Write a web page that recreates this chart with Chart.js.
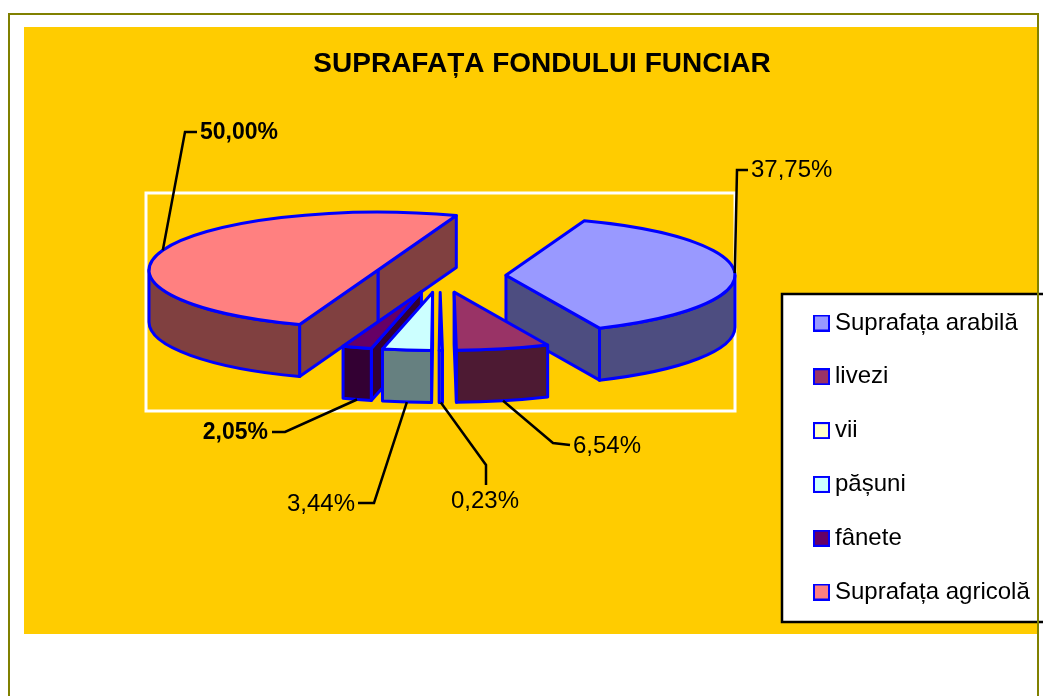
<!DOCTYPE html>
<html>
<head>
<meta charset="utf-8">
<style>html,body{margin:0;padding:0;background:#fff}canvas{display:block}</style>
<script src="https://cdn.jsdelivr.net/npm/chart.js@4"></script>
</head>
<body>
<canvas id="c" width="1043" height="696"></canvas>
<script>
const categories = ['Suprafața arabilă','livezi','vii','pășuni','fânete','Suprafața agricolă'];
const values = [37.75, 6.54, 0.23, 3.44, 2.05, 50.00];
const boldLabels = [false, false, false, false, true, true];
const sliceColors = ['#9999FF','#993366','#FFFFCC','#CCFFFF','#660066','#FF8080'];
const sideColors = ['#4D4D80','#4D1A33','#808066','#668080','#330033','#804040'];
const drawOrder = [5,0,4,1,3,2];
// leader-line layout: elbow offsets and label ends, per slice
const leaderElbows = [[[737,170],[748,170]],[[553,443],[570,445]],[[486,465],[486,485]],[[374,503],[358,503]],[[285,432],[272,432]],[[185,132],[197,132]]];
const labelAnchors = [[751,170,'left'],[573,446,'left'],[485,501,'center'],[355,504,'right'],[268,433,'right'],[200,133,'left']];

const FONT = '"Liberation Sans", Arial, sans-serif';
const SQUASH = 58/229, DEPTH = 52, BLUE = '#0000FF';

// legend swatch: sits right of the image centre so it clears the text gap
function swatch(color){
  const s=document.createElement('canvas'); s.width=26; s.height=17;
  const x=s.getContext('2d');
  x.fillStyle=color; x.fillRect(10,1,15,15);
  x.strokeStyle=BLUE; x.lineWidth=2; x.strokeRect(10,1,15,15);
  return s;
}

const pie3d = {
  id:'pie3d',
  beforeDraw(chart){
    const c = chart.ctx;
    c.save();
    c.fillStyle='#fff'; c.fillRect(0,0,1043,696);
    c.fillStyle='#FFCC00'; c.fillRect(24,27,1014,607);
    c.strokeStyle='#fff'; c.lineWidth=3; c.strokeRect(146,193,589,218);
    c.fillStyle='#fff'; c.fillRect(782,294,261,328);
    c.strokeStyle='#000'; c.lineWidth=2.5;
    c.beginPath(); c.moveTo(1043,294); c.lineTo(782,294); c.lineTo(782,622); c.lineTo(1043,622); c.stroke();
    c.strokeStyle='#808000'; c.lineWidth=2;
    c.beginPath(); c.moveTo(9,696); c.lineTo(9,14); c.lineTo(1038,14); c.lineTo(1038,696); c.stroke();
    c.restore();
    const l = chart.legend, pad = l.options.labels.padding;
    l.left = 811-pad; l.right = 1043; l.top = 311-pad; l.bottom = 696; l.width = 1043-l.left; l.height = 696-l.top;
    const t = chart.titleBlock; t.left = 24; t.right = 1060; t.width = 1036;
  },
  beforeDatasetDraw(chart){
    const c = chart.ctx, arcs = chart.getDatasetMeta(0).data;
    const geo = arcs.map(a=>{
      const mid=(a.startAngle+a.endAngle)/2, off=a.options.offset;
      return {a, mid, r:a.outerRadius, px:a.x+Math.cos(mid)*off, py:a.y+Math.sin(mid)*off*SQUASH};
    });
    const pt=(g,t)=>[g.px+g.r*Math.cos(t), g.py+g.r*SQUASH*Math.sin(t)];
    c.save(); c.lineJoin='round'; c.lineWidth=3; c.strokeStyle=BLUE;
    const wall=(g,t,i)=>{
      const q=pt(g,t);
      c.beginPath(); c.moveTo(g.px,g.py); c.lineTo(q[0],q[1]); c.lineTo(q[0],q[1]+DEPTH); c.lineTo(g.px,g.py+DEPTH); c.closePath();
      c.fillStyle=sideColors[i]; c.fill(); c.stroke();
    };
    drawOrder.forEach(i=>{
      const g=geo[i], s=g.a.startAngle, e=g.a.endAngle;
      if(Math.cos(e)>0) wall(g,e,i);
      if(Math.cos(s)<0) wall(g,s,i);
      // outer wall: the part of the rim that faces the viewer
      const P=Math.PI*2; let from=s, to=e;
      while(to>P){from-=P;to-=P;}
      const lo=Math.max(from,0), hi=Math.min(to,Math.PI);
      if(hi>lo){
        c.beginPath();
        c.ellipse(g.px,g.py,g.r,g.r*SQUASH,0,lo,hi);
        c.ellipse(g.px,g.py+DEPTH,g.r,g.r*SQUASH,0,hi,lo,true);
        c.closePath(); c.fillStyle=sideColors[i]; c.fill(); c.stroke();
      }
      c.beginPath(); c.moveTo(g.px,g.py);
      c.ellipse(g.px,g.py,g.r,g.r*SQUASH,0,s,e);
      c.closePath(); c.fillStyle=sliceColors[i]; c.fill(); c.stroke();
    });
    c.strokeStyle='#000'; c.lineWidth=2.5; c.lineJoin='miter';
    geo.forEach((g,i)=>{
      const q=pt(g,g.mid), y=q[1]+(Math.sin(g.mid)>0.3?DEPTH:0);
      c.beginPath(); c.moveTo(q[0],y);
      leaderElbows[i].forEach(p=>c.lineTo(p[0],p[1])); c.stroke();
      const [lx,ly,al]=labelAnchors[i];
      c.fillStyle='#000'; c.textAlign=al; c.textBaseline='middle';
      c.font=(boldLabels[i]?'bold 23px ':'24px ')+FONT;
      c.fillText(values[i].toFixed(2).replace('.',',')+'%',lx,ly);
    });
    c.restore();
    return false;
  }
};

new Chart(document.getElementById('c'),{
  type:'pie',
  data:{labels:categories,datasets:[{data:values,backgroundColor:sliceColors,borderColor:BLUE,borderWidth:2,offset:66,radius:229}]},
  options:{
    responsive:false,animation:false,rotation:20,
    layout:{padding:{top:47,left:211,right:374,bottom:225}},
    plugins:{
      title:{display:true,text:'SUPRAFAȚA FONDULUI FUNCIAR',color:'#000',padding:0,font:{family:FONT,size:28,weight:'bold',lineHeight:1.2}},
      legend:{position:'chartArea',align:'start',labels:{
        font:{family:FONT,size:24},color:'#000',usePointStyle:true,pointStyleWidth:12,boxHeight:12,padding:29.8,
        generateLabels(chart){
          return Chart.overrides.pie.plugins.legend.labels.generateLabels(chart)
            .map((it,i)=>Object.assign(it,{pointStyle:swatch(sliceColors[i])}));
        }
      }},
      tooltip:{enabled:false}
    }
  },
  plugins:[pie3d]
});
</script>
</body>
</html>
